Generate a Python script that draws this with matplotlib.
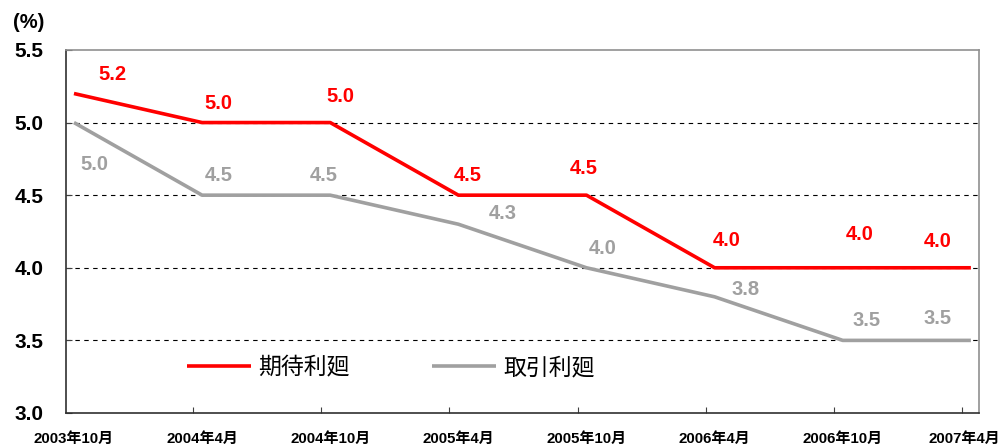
import matplotlib
matplotlib.use("Agg")
import matplotlib.pyplot as plt
from matplotlib.transforms import ScaledTranslation

# データ
months = ["2003年10月", "2004年4月", "2004年10月", "2005年4月",
          "2005年10月", "2006年4月", "2006年10月", "2007年4月"]
expected = [5.2, 5.0, 5.0, 4.5, 4.5, 4.0, 4.0, 4.0]   # 期待利廻
actual = [5.0, 4.5, 4.5, 4.3, 4.0, 3.8, 3.5, 3.5]     # 取引利廻

# ラベルのずらし量 (pt)
red_off = [(28, 14), (12, 14), (7, 19), (7, 14), (-2, 19), (9, 20), (12, 24), (-24, 19)]
gray_off = [(15, -30), (12, 14), (-5, 14), (32, 8), (12, 14), (22, 5), (17, 14), (-24, 16)]

mixed = ["Liberation Sans", "Noto Sans CJK JP"]

fig = plt.figure(figsize=(10.04, 4.46), dpi=100)
ax = fig.add_axes([0.0657, 0.074, 0.9093, 0.814])

x = list(range(len(months)))
ax.plot(x, expected, color="#FF0000", lw=2.6, label="期待利廻", solid_capstyle="butt")
ax.plot(x, actual, color="#A0A0A0", lw=2.6, label="取引利廻", solid_capstyle="butt")

for i, v in enumerate(expected):
    ax.annotate(f"{v:.1f}", (i, v), xytext=red_off[i], textcoords="offset points",
                ha="center", va="center", color="#FF0000", fontsize=14.5,
                fontweight="bold", family="Liberation Sans")
for i, v in enumerate(actual):
    ax.annotate(f"{v:.1f}", (i, v), xytext=gray_off[i], textcoords="offset points",
                ha="center", va="center", color="#A0A0A0", fontsize=14.5,
                fontweight="bold", family="Liberation Sans")

ax.set_xlim(-0.0625, 7.0625)
ax.set_ylim(3.0, 5.5)
for g in [3.5, 4.0, 4.5, 5.0]:
    ax.axhline(g, color="black", lw=0.8, ls=(0, (4, 4)), zorder=0)

ax.set_yticks([3.0, 3.5, 4.0, 4.5, 5.0, 5.5])
ax.set_yticklabels([f"{t:.1f}" for t in [3.0, 3.5, 4.0, 4.5, 5.0, 5.5]],
                   fontsize=15, fontweight="bold", family="Liberation Sans")
ax.tick_params(axis="y", length=4, width=0.8, direction="in", pad=16, color="#404040")

ax.set_xticks(x)
ax.set_xticklabels(months, fontsize=10.8, fontweight="bold", family=mixed)
ax.tick_params(axis="x", which="major", length=0, pad=14)
ax.set_xticks([i - 0.07 for i in range(1, 8)], minor=True)
ax.tick_params(axis="x", which="minor", length=4, width=0.8, direction="in", color="#404040")

# 右端のラベルは少し左へ
last = ax.get_xticklabels()[-1]
last.set_transform(last.get_transform() + ScaledTranslation(-5 / 72, 0, fig.dpi_scale_trans))

ax.spines["left"].set_color("#303030")
ax.spines["bottom"].set_color("#303030")
ax.spines["top"].set_color("#909090")
ax.spines["right"].set_color("#909090")
for s in ax.spines.values():
    s.set_linewidth(1.2)

ax.text(-0.058, 1.05, "(%)", transform=ax.transAxes, fontsize=14.5, fontweight="bold",
        family="Liberation Sans", ha="left", va="bottom")

leg = ax.legend(ncol=2, loc="center left", bbox_to_anchor=(0.11, 0.124), frameon=False,
                prop={"family": "Noto Sans CJK JP", "size": 16.5},
                handlelength=2.8, handletextpad=0.3, columnspacing=3.6)

fig.savefig("out.png", dpi=100)
